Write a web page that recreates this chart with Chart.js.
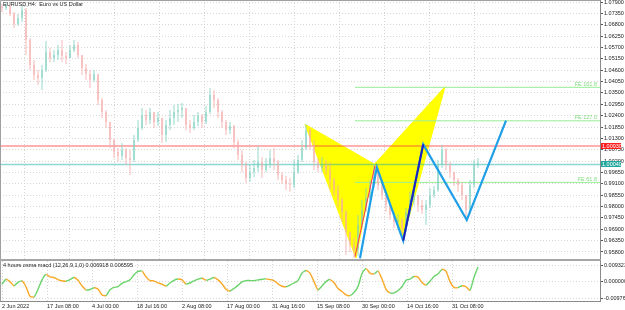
<!DOCTYPE html>
<html><head><meta charset="utf-8">
<script src="https://cdn.jsdelivr.net/npm/chart.js@4.4.0/dist/chart.umd.min.js"></script>
<style>
html,body{margin:0;padding:0;background:#fff;width:625px;height:310px;overflow:hidden;}
#main{position:absolute;left:0;top:0;width:625px;height:259px;}
#sep{position:absolute;left:0;top:259px;width:601px;height:2px;background:#a6a6a6;}
#sub{position:absolute;left:0;top:261px;width:625px;height:49px;}
canvas{display:block;}
</style></head><body>
<div id="main"><canvas id="c1" width="625" height="259"></canvas></div>
<div id="sep"></div>
<div id="sub"><canvas id="c2" width="625" height="49"></canvas></div>
<script>
// ---------- DATA (EURUSD H4, one entry per candle slot) ----------
const firstOpen = 1.0768;
const closes = [
1.0761,1.0771,1.0732,1.0684,1.0713,1.0751,1.0606,1.0485,1.0437,1.0422,
1.0461,1.0548,1.0519,1.0533,1.0558,1.0529,1.0519,1.0558,1.0582,1.0533,
1.0471,1.0442,1.0413,1.0442,1.0316,1.0258,1.0209,1.0122,1.0064,1.0045,
1.0074,1.0035,1.0025,1.0122,1.0180,1.0243,1.0219,1.0258,1.0209,1.0229,
1.0146,1.0195,1.0229,1.0258,1.0267,1.0277,1.0195,1.0180,1.0209,1.0238,
1.0209,1.0258,1.0340,1.0316,1.0258,1.0209,1.0170,1.0190,1.0112,1.0050,
1.0001,0.9938,0.9967,0.9987,1.0016,0.9977,1.0006,1.0035,1.0016,0.9953,
0.9929,0.9909,0.9904,0.9967,1.0025,1.0083,1.0170,1.0098,1.0016,0.9987,
1.0001,0.9977,0.9929,0.9880,0.9832,0.9774,0.9677,0.9614,0.9590,0.9711,
0.9783,0.9841,0.9904,0.9977,0.9904,0.9856,0.9808,0.9759,0.9725,0.9735,
0.9696,0.9774,0.9832,0.9856,0.9808,0.9783,0.9808,0.9856,0.9880,1.0001,
1.0074,1.0001,0.9967,0.9929,0.9904,0.9856,0.9783,0.9904,1.0001,1.0011
];
const highs = [
1.0780,1.0785,1.0776,1.0742,1.0732,1.0776,1.0761,1.0616,1.0509,1.0461,
1.0485,1.0601,1.0567,1.0558,1.0582,1.0606,1.0548,1.0582,1.0606,1.0596,
1.0533,1.0490,1.0461,1.0461,1.0442,1.0325,1.0267,1.0209,1.0132,1.0083,
1.0108,1.0083,1.0074,1.0146,1.0219,1.0277,1.0267,1.0277,1.0258,1.0258,
1.0229,1.0219,1.0267,1.0291,1.0296,1.0301,1.0277,1.0219,1.0243,1.0258,
1.0248,1.0287,1.0374,1.0364,1.0325,1.0267,1.0219,1.0209,1.0195,1.0122,
1.0074,1.0016,1.0001,1.0025,1.0093,1.0040,1.0035,1.0074,1.0083,1.0025,
0.9967,0.9948,0.9938,1.0025,1.0050,1.0122,1.0200,1.0180,1.0122,1.0035,
1.0040,1.0025,1.0016,0.9938,0.9904,0.9841,0.9783,0.9680,0.9648,0.9759,
0.9832,0.9890,0.9929,1.0006,0.9987,0.9914,0.9856,0.9812,0.9774,0.9764,
0.9745,0.9793,0.9871,0.9880,0.9856,0.9832,0.9832,0.9890,0.9900,1.0025,
1.0098,1.0083,1.0016,0.9967,0.9938,0.9919,0.9856,0.9929,1.0025,1.0035
];
const lows = [
1.0742,1.0751,1.0722,1.0664,1.0674,1.0693,1.0533,1.0461,1.0413,1.0388,
1.0364,1.0451,1.0500,1.0500,1.0509,1.0500,1.0490,1.0519,1.0548,1.0519,
1.0437,1.0413,1.0374,1.0403,1.0291,1.0229,1.0180,1.0083,1.0035,1.0016,
1.0025,1.0001,0.9953,1.0016,1.0112,1.0170,1.0195,1.0200,1.0180,1.0190,
1.0108,1.0112,1.0170,1.0195,1.0209,1.0229,1.0170,1.0156,1.0170,1.0190,
1.0180,1.0200,1.0248,1.0277,1.0229,1.0180,1.0146,1.0151,1.0083,1.0025,
0.9967,0.9914,0.9919,0.9943,0.9967,0.9938,0.9967,0.9987,0.9977,0.9929,
0.9909,0.9880,0.9871,0.9890,0.9958,1.0016,1.0074,1.0074,0.9977,0.9967,
0.9967,0.9953,0.9880,0.9851,0.9798,0.9725,0.9565,0.9580,0.9551,0.9561,
0.9696,0.9774,0.9832,0.9890,0.9880,0.9832,0.9774,0.9735,0.9696,0.9687,
0.9667,0.9677,0.9764,0.9808,0.9774,0.9764,0.9711,0.9793,0.9841,0.9871,
0.9987,0.9977,0.9938,0.9900,0.9871,0.9832,0.9749,0.9774,0.9890,0.9987
];
const macd = [
-0.0015,0.0014,0.0000,-0.0025,-0.0004,0.0004,-0.0030,-0.0086,-0.0090,-0.0045,
0.0010,0.0042,0.0028,0.0023,0.0012,0.0005,0.0002,0.0012,0.0024,0.0008,
-0.0024,-0.0049,-0.0046,-0.0036,-0.0044,-0.0078,-0.0082,-0.0047,-0.0034,-0.0030,
-0.0010,0.0000,0.0011,0.0040,0.0060,0.0062,0.0028,0.0006,0.0004,-0.0007,
-0.0015,-0.0026,-0.0008,0.0008,0.0015,0.0010,-0.0014,-0.0008,0.0005,0.0015,
0.0020,0.0008,0.0015,0.0024,0.0010,-0.0013,-0.0045,-0.0055,-0.0040,-0.0022,
-0.0002,0.0006,0.0006,0.0006,0.0010,0.0014,0.0016,0.0012,0.0006,-0.0013,
-0.0027,-0.0030,-0.0020,-0.0008,0.0006,0.0050,0.0065,0.0050,0.0000,-0.0048,
-0.0025,0.0000,0.0012,-0.0005,-0.0040,-0.0058,-0.0078,-0.0082,-0.0064,-0.0028,
0.0048,0.0076,0.0050,0.0045,0.0062,0.0015,-0.0045,-0.0066,-0.0066,-0.0052,
-0.0030,0.0008,0.0015,0.0030,0.0026,-0.0005,-0.0020,0.0002,0.0030,0.0045,
0.0072,0.0062,0.0000,-0.0034,-0.0035,-0.0024,-0.0030,-0.0051,0.0025,0.0085
];
const xTickLabels = ['2 Jun 2022','17 Jun 08:00','4 Jul 00:00','18 Jul 16:00','2 Aug 08:00','17 Aug 00:00','31 Aug 16:00','15 Sep 08:00','30 Sep 00:00','14 Oct 16:00','31 Oct 08:00'];
const xTickStep = 11.25;
const yTickLabels = ['1.07900','1.07350','1.06800','1.06250','1.05700','1.05150','1.04600','1.04050','1.03500','1.02950','1.02400','1.01850','1.01300','1.00750','1.00200','0.99650','0.99100','0.98550','0.98000','0.97450','0.96900','0.96350','0.95800'];
const macdTickLabels = ['0.009323','0.000000','-0.009766'];
// harmonic pattern points [bar index, price]
const patternXAB = [[75.75,1.0198],[88.5,0.9551],[93.1,1.0005]];
const patternBCD = [[93.1,1.0005],[100.3,0.9645],[110.75,1.0380]];
const projection = [[89.5,0.9550],[93.7,0.9990],[100.3,0.9635],[105.3,1.0101],[116.2,0.9735],[126,1.0216]];
const navyLeg = [[100.3,0.9635],[105.3,1.0101]];
const redLeg = [[88.25,0.9557],[93.25,0.9998]];
const feNames = ['FE 161.8','FE 127.0','FE 61.8'];
const feLevels = [1.0377,1.0215,0.9917];
const feStart = 88.25;
const askLevel = 1.0093;
const bidLevel = 1.0004;
const titleText = 'EURUSD,H4:  Euro vs US Dollar';
const macdTitle = '4 hours osma macd (12,26,9,1,0) 0.006918 0.006595';

// ---------- helpers ----------
const opens = closes.map((c,i)=> i===0 ? firstOpen : closes[i-1]);
const BULL = '#7dd0bf', BEAR = '#f6a9a9';
const candleColor = ctx => { const i = ctx.dataIndex; return closes[i] >= opens[i] ? BULL : BEAR; };
const pts = arr => arr.map(p=>({x:p[0], y:p[1]}));
const closed = arr => pts(arr.concat([arr[0]]));
const XMIN = -0.5, XMAX = 149.5;
const FONT = {family:'Liberation Sans', size:5.5};

const lineDs = (data, color, width, order, extra) => Object.assign({
  type:'line', data, borderColor:color, borderWidth:width, pointRadius:0, tension:0, fill:false, order
}, extra||{});

const mainTexts = {
  id:'mainTexts',
  afterDraw(chart){
    const {ctx, scales:{x, y}} = chart;
    ctx.save();
    ctx.font = '5.5px "Liberation Sans"';
    ctx.fillStyle = '#7edc7e'; ctx.textAlign = 'right'; ctx.textBaseline = 'bottom';
    feLevels.forEach((lv,k)=> ctx.fillText(feNames[k], x.right - 3, y.getPixelForValue(lv) - 0.5));
    [[askLevel,'#ff1f1f'],[bidLevel,'#23a89e']].forEach(([lv,col])=>{
      const py = y.getPixelForValue(lv);
      ctx.fillStyle = col; ctx.fillRect(x.right + 1, Math.round(py) - 3, 20, 6);
      ctx.fillStyle = '#fff'; ctx.textAlign = 'left'; ctx.textBaseline = 'middle';
      ctx.fillText(lv.toFixed(5), x.right + 2, Math.round(py) + 0.3);
    });
    ctx.fillStyle = '#1a1a1a'; ctx.textAlign = 'left'; ctx.textBaseline = 'top';
    ctx.fillText(titleText, 3, 2);
    ctx.strokeStyle = '#a0a0a0'; ctx.lineWidth = 1;
    ctx.beginPath();
    ctx.moveTo(0.5, y.bottom); ctx.lineTo(0.5, 0.5); ctx.lineTo(x.right, 0.5);
    ctx.stroke();
    ctx.restore();
  }
};

new Chart(document.getElementById('c1'), {
  type:'bar',
  data:{ datasets:[
    lineDs(closed(patternXAB), '#ffff00', 1, 10, {fill:'shape', backgroundColor:'#ffff00'}),
    lineDs(closed(patternBCD), '#ffff00', 1, 10, {fill:'shape', backgroundColor:'#ffff00'}),
    lineDs([{x:XMIN,y:askLevel},{x:XMAX,y:askLevel}], 'rgba(255,70,70,0.42)', 2, 8),
    lineDs([{x:XMIN,y:bidLevel},{x:XMAX,y:bidLevel}], 'rgba(30,175,165,0.5)', 1.5, 8),
    ...feLevels.map(lv => lineDs([{x:feStart,y:lv},{x:XMAX,y:lv}], '#98ee98', 1, 7)),
    { type:'bar', order:6, data: closes.map((c,i)=>({x:i, y:[lows[i], highs[i]]})),
      backgroundColor:candleColor, barThickness:1, maxBarThickness:0.8, grouped:false, borderWidth:0, inflateAmount:0 },
    { type:'bar', order:5, data: closes.map((c,i)=>({x:i, y:[opens[i], c]})),
      backgroundColor:candleColor, barThickness:1, maxBarThickness:1.6, grouped:false, borderWidth:0, minBarLength:1, inflateAmount:0 },
    lineDs(pts(projection), '#1e9fe8', 2.2, 2),
    lineDs(pts(navyLeg), '#2020b8', 2, 1),
    lineDs(pts(redLeg), '#ff3355', 1, 1)
  ]},
  options:{
    responsive:false, animation:false, events:[],
    layout:{padding:0},
    plugins:{legend:{display:false}, tooltip:{enabled:false}},
    scales:{
      x:{ type:'linear', min:XMIN, max:XMAX, offset:false,
          grid:{color:'#d6d6d6', drawTicks:false},
          border:{display:false, dash:[1,2]},
          ticks:{display:false},
          afterBuildTicks:a=>{ a.ticks = xTickLabels.map((_,k)=>({value:k*xTickStep})); },
          afterFit:a=>{ a.height = 0; a.paddingLeft = 0; a.paddingRight = 0; } },
      y:{ type:'linear', position:'right', min:0.95461, max:1.07997,
          grid:{color:'#d6d6d6', tickColor:'#555', tickLength:3, drawTicks:true},
          border:{display:true, color:'#8a8a8a', dash:[1,2]},
          ticks:{font:FONT, color:'#1a1a1a', padding:1, callback:(v,i)=>yTickLabels[i]},
          afterBuildTicks:a=>{ a.ticks = yTickLabels.map(s=>({value:parseFloat(s)})); },
          afterFit:a=>{ a.width = 25; a.paddingTop = 0; a.paddingBottom = 0; } }
    }
  },
  plugins:[mainTexts]
});

const subTexts = {
  id:'subTexts',
  afterDraw(chart){
    const {ctx, scales:{x, y}} = chart;
    ctx.save();
    ctx.font = '5.5px "Liberation Sans"';
    ctx.fillStyle = '#1a1a1a'; ctx.textAlign = 'left'; ctx.textBaseline = 'top';
    ctx.fillText(macdTitle, 3, 2);
    ctx.strokeStyle = '#a0a0a0'; ctx.lineWidth = 1;
    ctx.beginPath();
    ctx.moveTo(0.5, 0); ctx.lineTo(0.5, y.bottom);
    ctx.stroke();
    ctx.restore();
  }
};

new Chart(document.getElementById('c2'), {
  type:'line',
  data:{ datasets:[{
    data: macd.map((v,i)=>({x:i, y:v})),
    borderWidth:1.4, pointRadius:0, tension:0.2, fill:false, borderColor:'#6ad36a',
    segment:{ borderColor: c => c.p1.parsed.y >= c.p0.parsed.y ? '#6ad36a' : '#f9a826' }
  }]},
  options:{
    responsive:false, animation:false, events:[],
    layout:{padding:0},
    plugins:{legend:{display:false}, tooltip:{enabled:false}},
    scales:{
      x:{ type:'linear', min:XMIN, max:XMAX, offset:false,
          grid:{color:'#d6d6d6', drawTicks:true, tickLength:1, tickColor:'#666'},
          border:{display:true, color:'#8a8a8a', dash:[1,2]},
          ticks:{font:FONT, color:'#1a1a1a', padding:1, align:'start', autoSkip:false, maxRotation:0, minRotation:0,
                 callback:(v,i)=>xTickLabels[i]},
          afterBuildTicks:a=>{ a.ticks = xTickLabels.map((_,k)=>({value:k*xTickStep})); },
          afterFit:a=>{ a.height = 9; a.paddingLeft = 0; a.paddingRight = 0; } },
      y:{ type:'linear', position:'right', min:-0.011347, max:0.012075,
          grid:{color:'#d6d6d6', tickColor:'#555', tickLength:3, drawTicks:true},
          border:{display:true, color:'#8a8a8a', dash:[1,2]},
          ticks:{font:FONT, color:'#1a1a1a', padding:1, callback:(v,i)=>macdTickLabels[i]},
          afterBuildTicks:a=>{ a.ticks = macdTickLabels.map(s=>({value:parseFloat(s)})); },
          afterFit:a=>{ a.width = 25; a.paddingTop = 0; a.paddingBottom = 0; } }
    }
  },
  plugins:[subTexts]
});
</script>
</body></html>
